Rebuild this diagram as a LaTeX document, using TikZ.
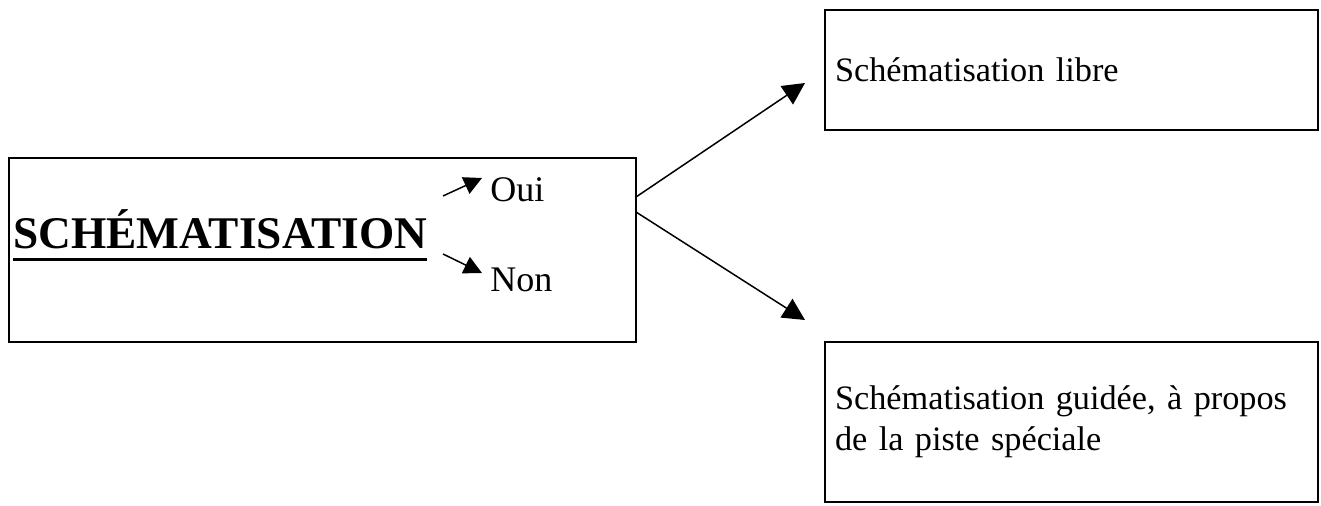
\documentclass[tikz,border=0pt]{standalone}
\usepackage{fontspec}
\setmainfont{Liberation Serif}
\usetikzlibrary{arrows.meta, positioning}

\newcommand{\thickul}[1]{\leavevmode\vtop{\hbox{#1}\kern4.6pt\hrule height 1.7pt}}

\begin{document}
\begin{tikzpicture}[
    x=0.02cm, y=-0.02cm,
    box/.style={rectangle, draw, line width=1.1pt, inner sep=0pt},
    textbox/.style={box, text width=9.46cm, inner xsep=0.2cm, align=left, font=\fontsize{19.5}{23.2}\selectfont},
    answer/.style={anchor=base west, inner sep=0pt, font=\fontsize{20.5}{25}\selectfont},
    arrow/.style={-{Triangle[length=0.44cm, width=0.44cm]}, line width=0.85pt},
    smallarrow/.style={-{Triangle[length=0.36cm, width=0.36cm]}, line width=0.85pt}
]
    \useasboundingbox (0,0) rectangle (1321,506);

    % Nodes
    \node[box, minimum width=12.54cm, minimum height=3.68cm] (main) at (322.5,250) {};
    \node[anchor=base west, inner sep=0pt, font=\fontsize{25.8}{30}\selectfont\bfseries] (title) at (13,249) {\thickul{SCHÉMATISATION}};
    \node[answer] (oui) at (490,202) {Oui};
    \node[answer] (non) at (490,292) {Non};
    \node[textbox, minimum height=2.4cm] (libre) at (1071.5,70) {Schématisation libre};
    \node[textbox, minimum height=3.2cm] (guidee) at (1071.5,422) {Schématisation guidée, à propos de la piste spéciale};

    % Arrows
    \coordinate (title oui) at (443,196);
    \coordinate (title non) at (443,254);
    \coordinate (to oui) at (482,178);
    \coordinate (to non) at (482,273);
    \coordinate (fork libre) at (636,197);
    \coordinate (fork guidee) at (636,212);
    \coordinate (to libre) at (805,83);
    \coordinate (to guidee) at (805,320);
    \draw[smallarrow] (title oui) -- (to oui);
    \draw[smallarrow] (title non) -- (to non);
    \draw[arrow] (fork libre) -- (to libre);
    \draw[arrow] (fork guidee) -- (to guidee);
\end{tikzpicture}
\end{document}
